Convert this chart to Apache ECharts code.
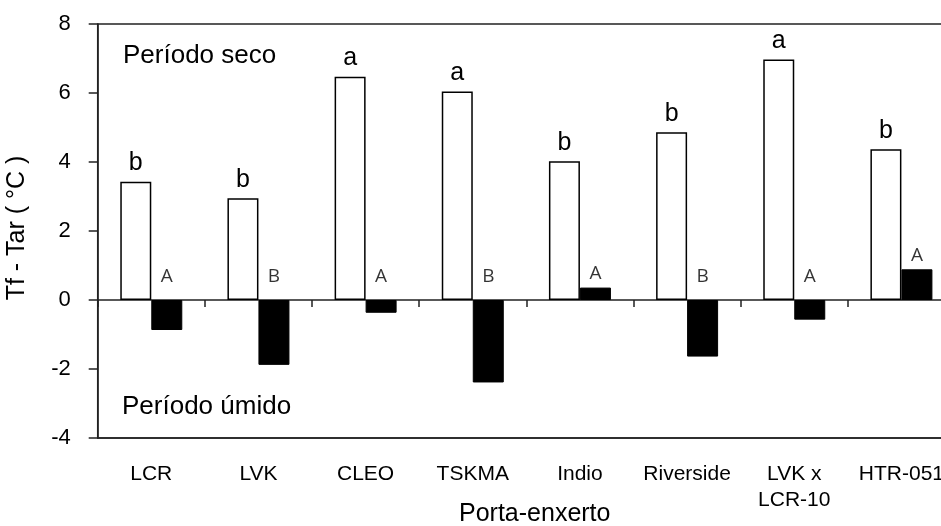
<!DOCTYPE html>
<html>
<head>
<meta charset="utf-8">
<script src="https://cdn.jsdelivr.net/npm/echarts@6/dist/echarts.min.js"></script>
<style>html,body{margin:0;padding:0;background:#fff}#c{width:941px;height:526px}</style>
</head>
<body>
<div id="c"></div>
<script>
const categories = ['LCR', 'LVK', 'CLEO', 'TSKMA', 'Indio', 'Riverside', 'LVK x\nLCR-10', 'HTR-051'];
const seco = [3.43, 2.95, 6.47, 6.04, 4.02, 4.86, 6.97, 4.37];
const umido = [-0.87, -1.88, -0.37, -2.39, 0.36, -1.64, -0.57, 0.89];
const secoLetters = ['b', 'b', 'a', 'a', 'b', 'b', 'a', 'b'];
const umidoLetters = ['A', 'B', 'A', 'B', 'A', 'B', 'A', 'A'];
const yTicks = [-4, -2, 0, 2, 4, 6, 8];

const chart = echarts.init(document.getElementById('c'), null, {renderer: 'canvas'});
const FONT = '"Liberation Sans", Arial, sans-serif';

const umidoLabelData = umido.map((v, i) => ({
  value: Math.max(0, v),
  label: { distance: v < 0 ? 14 : 4 }
}));

chart.setOption({
  animation: false,
  backgroundColor: '#fff',
  grid: {
    left: 97.7, right: -14, top: 24, bottom: 88,
    outerBoundsMode: 'none', containLabel: false,
    show: true, borderColor: '#222', borderWidth: 1.5, backgroundColor: 'transparent'
  },
  xAxis: [
    {
      type: 'category', data: categories, position: 'bottom',
      axisLine: { show: true, onZero: true, lineStyle: { color: '#222', width: 1.5 } },
      axisTick: { show: true, inside: false, length: 7, lineStyle: { color: '#222', width: 1.5 } },
      axisLabel: { show: false }, splitLine: { show: false }
    },
    {
      type: 'category', data: categories, position: 'bottom',
      axisLine: { show: true, onZero: false, lineStyle: { color: '#222', width: 1.5 } },
      axisTick: { show: false },
      axisLabel: { show: true, fontFamily: FONT, fontSize: 21, color: '#000', margin: 23, lineHeight: 26, interval: 0 },
      splitLine: { show: false }
    }
  ],
  yAxis: {
    type: 'value', min: yTicks[0], max: yTicks[yTicks.length - 1], interval: 2,
    axisLine: { show: true, lineStyle: { color: '#222', width: 1.5 } },
    axisTick: { show: true, inside: false, length: 9, lineStyle: { color: '#222', width: 1.5 } },
    axisLabel: { fontFamily: FONT, fontSize: 22, color: '#000', margin: 27 },
    splitLine: { show: false }
  },
  series: [
    {
      type: 'bar', name: 'seco', data: seco, barWidth: 31, barGap: '0%',
      itemStyle: { color: '#fff', borderColor: '#000', borderWidth: 1.5 },
      label: {
        show: true, position: 'top', distance: 6, fontFamily: FONT, fontSize: 25, color: '#000',
        formatter: p => secoLetters[p.dataIndex]
      }
    },
    {
      type: 'bar', name: 'umido', data: umido, barWidth: 31, barGap: '0%',
      itemStyle: { color: '#000', borderColor: '#000', borderWidth: 1 }
    },
    {
      type: 'scatter', name: 'umidoLetters', data: umidoLabelData, symbolSize: 0,
      silent: true,
      label: {
        show: true, position: 'top', offset: [15.5, 0], fontFamily: '"Open Sans", Lato, sans-serif',
        fontSize: 19, color: '#000', formatter: p => umidoLetters[p.dataIndex]
      }
    }
  ],
  graphic: [
    { type: 'text', left: 123, top: 43, style: { text: 'Período seco', font: '26px "Liberation Sans", Arial, sans-serif', fill: '#000' } },
    { type: 'text', left: 122, top: 394, style: { text: 'Período úmido', font: '26px "Liberation Sans", Arial, sans-serif', fill: '#000' } },
    { type: 'text', left: 459, top: 502, style: { text: 'Porta-enxerto', font: '25px "Liberation Sans", Arial, sans-serif', fill: '#000' } },
    { type: 'text', x: 17, y: 228, rotation: Math.PI / 2,
      style: { text: 'Tf - Tar ( °C )', font: '25px "Liberation Sans", Arial, sans-serif', fill: '#000', align: 'center', verticalAlign: 'middle' } }
  ]
});
</script>
</body>
</html>
